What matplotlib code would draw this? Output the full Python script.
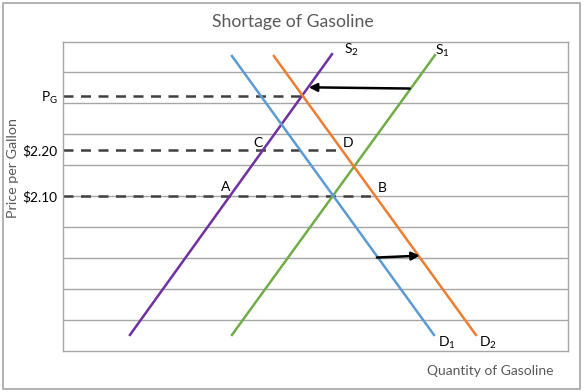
import numpy as np
import matplotlib
matplotlib.use("Agg")
import matplotlib.pyplot as plt
from matplotlib.patches import Rectangle

plt.rcParams['font.family'] = ['Lato', 'DejaVu Sans']
plt.rcParams['mathtext.fontset'] = 'custom'
plt.rcParams['mathtext.rm'] = 'Lato'
plt.rcParams['mathtext.it'] = 'Lato:italic'

# ---- data (quantity, price in chart units) ----
s2_q = [1.32, 5.32]
s2_p = [0.52, 9.59]
s1_q = [3.34, 7.36]
s1_p = [0.52, 9.56]
d1_q = [3.34, 7.34]
d1_p = [9.53, 0.52]
d2_q = [4.17, 8.17]
d2_p = [9.53, 0.52]

price_levels = [5.0, 6.5, 8.23]
price_labels = [r"\$2.10", r"\$2.20", r"P$_\mathrm{G}$"]

title = "Shortage of Gasoline"
xlabel = "Quantity of Gasoline"
ylabel = "Price per Gallon"

purple = "#7030A0"
green = "#70AD47"
blue = "#5B9BD5"
orange = "#ED7D31"
grid_c = "#A6A6A6"
text_c = "#595959"

W, H = 586, 392
fig = plt.figure(figsize=(W / 100, H / 100), dpi=100)
fig.add_artist(Rectangle((2.5 / W, 1 - 388.5 / H), 577.5 / W, 386 / H,
                         transform=fig.transFigure, fill=False,
                         edgecolor="#A6A6A6", linewidth=1.2))

L, T, R, B = 63.3, 41.5, 568.3, 351
ax = fig.add_axes([L / W, 1 - B / H, (R - L) / W, (B - T) / H])
ax.set_xlim(0, 10)
ax.set_ylim(0, 10)
for s in ax.spines.values():
    s.set_color(grid_c)
    s.set_linewidth(1.0)
for g in range(1, 10):
    ax.axhline(g, color=grid_c, lw=1.0, zorder=0)

ax.set_xticks([])
ax.set_yticks(price_levels)
ax.set_yticklabels(price_labels, fontsize=9.8, color="black")
ax.tick_params(axis='y', length=0, pad=4)


def q_at(qs, ps, p):
    qs = np.asarray(qs); ps = np.asarray(ps)
    order = np.argsort(ps)
    return np.interp(p, ps[order], qs[order])

# dashed price lines
ax.plot([0, q_at(s2_q, s2_p, price_levels[2])], [price_levels[2]] * 2,
        color="#404040", lw=1.8, ls=(0, (4, 3)), zorder=2)
ax.plot([0, q_at(d2_q, d2_p, price_levels[1])], [price_levels[1]] * 2,
        color="#404040", lw=1.8, ls=(0, (4, 3)), zorder=2)
ax.plot([0, q_at(d2_q, d2_p, price_levels[0])], [price_levels[0]] * 2,
        color="#404040", lw=1.8, ls=(0, (4, 3)), zorder=2)

ax.plot(s2_q, s2_p, color=purple, lw=1.8, zorder=3)
ax.plot(s1_q, s1_p, color=green, lw=1.8, zorder=3)
ax.plot(d1_q, d1_p, color=blue, lw=1.8, zorder=3)
ax.plot(d2_q, d2_p, color=orange, lw=1.8, zorder=3)

# arrows
ax.annotate("", xy=(4.86, 8.52), xytext=(6.86, 8.48),
            arrowprops=dict(arrowstyle="-|>", color="black", lw=1.8,
                            mutation_scale=12, shrinkA=0, shrinkB=0), zorder=4)
ax.annotate("", xy=(7.06, 3.08), xytext=(6.21, 3.02),
            arrowprops=dict(arrowstyle="-|>", color="black", lw=1.8,
                            mutation_scale=12, shrinkA=0, shrinkB=0), zorder=4)

fs = 10
ax.text(5.56, 9.72, r"S$_2$", fontsize=fs, va="center", ha="left")
ax.text(7.36, 9.69, r"S$_1$", fontsize=fs, va="center", ha="left")
ax.text(7.42, 0.26, r"D$_1$", fontsize=fs, va="center", ha="left")
ax.text(8.23, 0.26, r"D$_2$", fontsize=fs, va="center", ha="left")
ax.text(3.86, 6.72, "C", fontsize=fs, va="center", ha="center")
ax.text(5.64, 6.72, "D", fontsize=fs, va="center", ha="center")
ax.text(3.22, 5.30, "A", fontsize=fs, va="center", ha="center")
ax.text(6.31, 5.26, "B", fontsize=fs, va="center", ha="center")

fig.text(293 / W, 1 - 22 / H, title, fontsize=12.7, color=text_c,
         ha="center", va="center")
fig.text(490 / W, 1 - 371 / H, xlabel, fontsize=10, color=text_c,
         ha="center", va="center")
fig.text(13 / W, 1 - 168 / H, ylabel, fontsize=10.3, color=text_c,
         ha="center", va="center", rotation=90)

fig.savefig("out.png", dpi=100)
